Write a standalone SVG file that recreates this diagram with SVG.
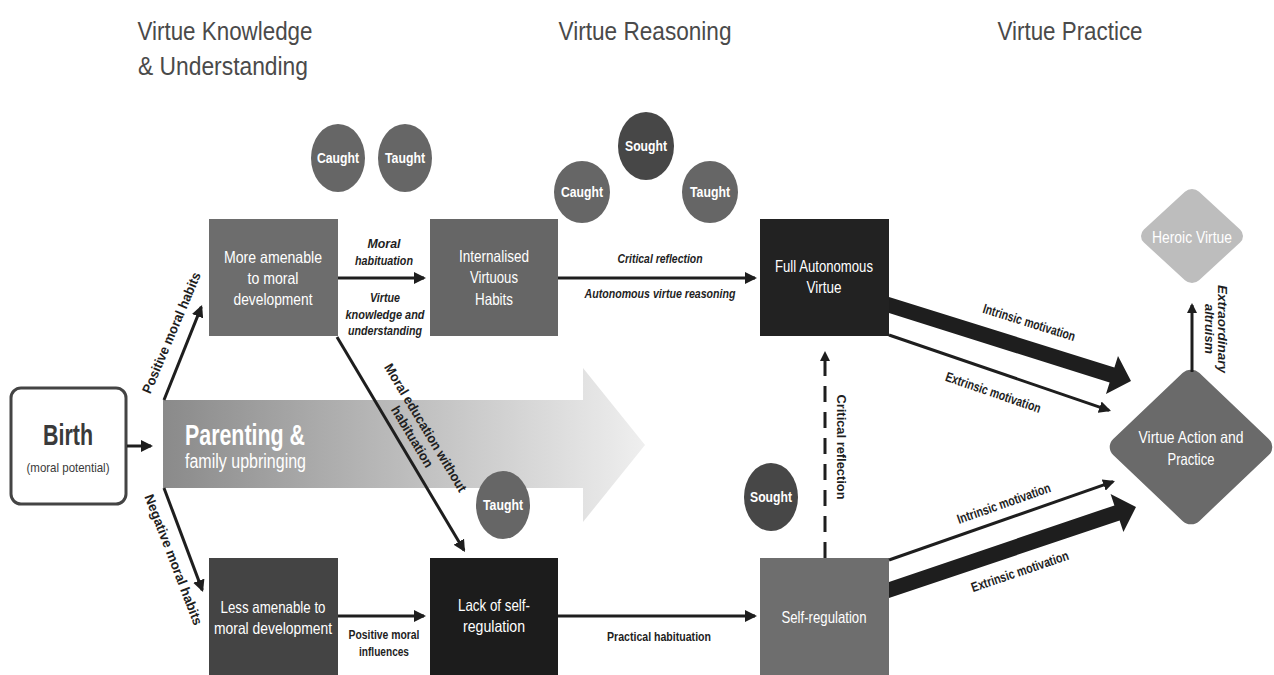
<svg xmlns="http://www.w3.org/2000/svg" width="1274" height="675" viewBox="0 0 1274 675">
<defs>
<linearGradient id="pg" gradientUnits="userSpaceOnUse" x1="163" y1="0" x2="645" y2="0">
<stop offset="0" stop-color="#8a8a8a"/>
<stop offset="1" stop-color="#efefef"/>
</linearGradient>
<marker id="ah" markerUnits="userSpaceOnUse" markerWidth="12" markerHeight="12" refX="10" refY="6" orient="auto">
<path d="M0,0 L12,6 L0,12 z" fill="#1e1e1e"/>
</marker>
<marker id="ahs" markerUnits="userSpaceOnUse" markerWidth="10" markerHeight="10" refX="8" refY="5" orient="auto">
<path d="M0,0 L10,5 L0,10 z" fill="#1e1e1e"/>
</marker>
<style>
.title{font-family:"Liberation Sans",Arial,sans-serif;font-size:26px;fill:#4a4a4a;text-anchor:middle}
.nt{font-family:"Liberation Sans",Arial,sans-serif;font-size:16.5px;fill:#ffffff;text-anchor:middle}
.ct{font-family:"Liberation Sans",Arial,sans-serif;font-size:14.5px;font-weight:bold;fill:#ffffff;text-anchor:middle}
.lb{font-family:"Liberation Sans",Arial,sans-serif;font-size:13.5px;font-weight:bold;fill:#1e1e1e;text-anchor:middle}
.it{font-style:italic}
.cn{stroke:#1e1e1e;stroke-width:3;fill:none}
.circ{fill:#666666}
.circd{fill:#474747}
</style>
</defs>
<rect x="0" y="0" width="1274" height="675" fill="#ffffff"/>

<g id="titles">
<text class="title" x="225" y="40" textLength="175" lengthAdjust="spacingAndGlyphs">Virtue Knowledge</text>
<text class="title" x="223" y="75" textLength="170" lengthAdjust="spacingAndGlyphs">&amp; Understanding</text>
<text class="title" x="645" y="40" textLength="173" lengthAdjust="spacingAndGlyphs">Virtue Reasoning</text>
<text class="title" x="1070" y="40" textLength="145" lengthAdjust="spacingAndGlyphs">Virtue Practice</text>
</g>

<g id="parenting">
<path d="M163,400 H583 V368 L645,445 L583,522 V488 H163 Z" fill="url(#pg)"/>
<text x="185" y="445" font-family="Liberation Sans, Arial, sans-serif" font-size="29" font-weight="bold" fill="#ffffff" textLength="120" lengthAdjust="spacingAndGlyphs">Parenting &amp;</text>
<text x="185" y="468" font-family="Liberation Sans, Arial, sans-serif" font-size="20" fill="#ffffff" textLength="121" lengthAdjust="spacingAndGlyphs">family upbringing</text>
</g>

<g id="birth">
<rect x="11" y="388" width="115" height="116" rx="10" fill="#ffffff" stroke="#444444" stroke-width="3"/>
<text x="68" y="445" font-family="Liberation Sans, Arial, sans-serif" font-size="29" font-weight="bold" fill="#3a3a3a" text-anchor="middle" textLength="50" lengthAdjust="spacingAndGlyphs">Birth</text>
<text x="68" y="472" font-family="Liberation Sans, Arial, sans-serif" font-size="13" fill="#3a3a3a" text-anchor="middle" textLength="83" lengthAdjust="spacingAndGlyphs">(moral potential)</text>
</g>

<g id="more-amenable">
<rect x="209" y="219" width="129" height="117" fill="#6d6d6d"/>
<text class="nt" x="273" y="263" textLength="98" lengthAdjust="spacingAndGlyphs">More amenable</text>
<text class="nt" x="273" y="284" textLength="51" lengthAdjust="spacingAndGlyphs">to moral</text>
<text class="nt" x="273" y="305" textLength="79" lengthAdjust="spacingAndGlyphs">development</text>
</g>

<g id="internalised">
<rect x="430" y="219" width="128" height="117" fill="#666666"/>
<text class="nt" x="494" y="262" textLength="70" lengthAdjust="spacingAndGlyphs">Internalised</text>
<text class="nt" x="494" y="283" textLength="48" lengthAdjust="spacingAndGlyphs">Virtuous</text>
<text class="nt" x="494" y="305" textLength="38" lengthAdjust="spacingAndGlyphs">Habits</text>
</g>

<g id="full-autonomous">
<rect x="760" y="219" width="129" height="117" fill="#222222"/>
<text class="nt" x="824" y="272" textLength="98" lengthAdjust="spacingAndGlyphs">Full Autonomous</text>
<text class="nt" x="824" y="293" textLength="35" lengthAdjust="spacingAndGlyphs">Virtue</text>
</g>

<g id="less-amenable">
<rect x="209" y="558" width="129" height="117" fill="#444444"/>
<text class="nt" x="273" y="613" textLength="105" lengthAdjust="spacingAndGlyphs">Less amenable to</text>
<text class="nt" x="273" y="634" textLength="118" lengthAdjust="spacingAndGlyphs">moral development</text>
</g>

<g id="lack-self-regulation">
<rect x="430" y="558" width="128" height="117" fill="#1c1c1c"/>
<text class="nt" x="494" y="611" textLength="72" lengthAdjust="spacingAndGlyphs">Lack of self-</text>
<text class="nt" x="494" y="632" textLength="62" lengthAdjust="spacingAndGlyphs">regulation</text>
</g>

<g id="self-regulation">
<rect x="760" y="558" width="129" height="117" fill="#6e6e6e"/>
<text class="nt" x="824" y="623" textLength="85" lengthAdjust="spacingAndGlyphs">Self-regulation</text>
</g>

<g id="virtue-action">
<rect x="-61" y="-61" width="122" height="122" rx="12" fill="#6a6a6a" transform="translate(1191,447) scale(1,0.95) rotate(45)"/>
<text class="nt" x="1191" y="443" textLength="105" lengthAdjust="spacingAndGlyphs">Virtue Action and</text>
<text class="nt" x="1191" y="465" textLength="47" lengthAdjust="spacingAndGlyphs">Practice</text>
</g>

<g id="heroic-virtue">
<rect x="-39" y="-39" width="78" height="78" rx="10" fill="#bdbdbd" transform="translate(1192,236) scale(1,0.92) rotate(45)"/>
<text class="nt" x="1192" y="243" textLength="80" lengthAdjust="spacingAndGlyphs">Heroic Virtue</text>
</g>

<g id="caught-1"><ellipse class="circ" cx="338" cy="158" rx="27" ry="34"/><text class="ct" x="338" y="163" textLength="42" lengthAdjust="spacingAndGlyphs">Caught</text></g>
<g id="taught-1"><ellipse class="circ" cx="405" cy="158" rx="27" ry="34"/><text class="ct" x="405" y="163" textLength="40" lengthAdjust="spacingAndGlyphs">Taught</text></g>
<g id="caught-2"><ellipse class="circ" cx="582" cy="192" rx="28" ry="31"/><text class="ct" x="582" y="197" textLength="42" lengthAdjust="spacingAndGlyphs">Caught</text></g>
<g id="sought-1"><ellipse class="circd" cx="646" cy="146" rx="28" ry="34"/><text class="ct" x="646" y="151" textLength="42" lengthAdjust="spacingAndGlyphs">Sought</text></g>
<g id="taught-2"><ellipse class="circ" cx="710" cy="192" rx="28" ry="31"/><text class="ct" x="710" y="197" textLength="40" lengthAdjust="spacingAndGlyphs">Taught</text></g>
<g id="taught-3"><ellipse class="circ" cx="503" cy="505" rx="27" ry="34"/><text class="ct" x="503" y="510" textLength="40" lengthAdjust="spacingAndGlyphs">Taught</text></g>
<g id="sought-2"><ellipse class="circd" cx="771" cy="497" rx="27" ry="34"/><text class="ct" x="771" y="502" textLength="42" lengthAdjust="spacingAndGlyphs">Sought</text></g>

<g id="connectors">
<line class="cn" x1="127" y1="446" x2="151" y2="446" marker-end="url(#ah)"/>
<line class="cn" x1="164" y1="400" x2="201.3" y2="306.9" marker-end="url(#ah)"/>
<line class="cn" x1="164" y1="488" x2="202.3" y2="590.1" marker-end="url(#ah)"/>
<line class="cn" x1="338" y1="278" x2="424" y2="278" marker-end="url(#ah)"/>
<line class="cn" x1="558" y1="278" x2="755" y2="278" marker-end="url(#ah)"/>
<line class="cn" x1="337" y1="337" x2="464" y2="550.3" marker-end="url(#ah)"/>
<line class="cn" x1="338" y1="616" x2="424" y2="616" marker-end="url(#ah)"/>
<line class="cn" x1="558" y1="616" x2="755" y2="616" marker-end="url(#ah)"/>
<line class="cn" x1="825" y1="558" x2="825" y2="353" stroke-dasharray="16 10" marker-end="url(#ahs)"/>
<line class="cn" x1="889" y1="335" x2="1109.1" y2="410.4" marker-end="url(#ah)"/>
<line class="cn" x1="889" y1="560" x2="1113.1" y2="481.7" marker-end="url(#ah)"/>
<line class="cn" x1="1192" y1="372" x2="1192" y2="305" marker-end="url(#ahs)"/>
<polygon points="889,297 1114.4,367.4 1118,356 1131,381 1106,394 1109.6,382.6 889,313" fill="#1e1e1e"/>
<polygon points="889,582 1114.4,505.4 1110.6,494 1136,507 1123.4,532 1119.6,520.6 889,598" fill="#1e1e1e"/>
</g>

<g id="labels">
<text class="lb it" x="384" y="248" textLength="33" lengthAdjust="spacingAndGlyphs">Moral</text>
<text class="lb it" x="384" y="265" textLength="58" lengthAdjust="spacingAndGlyphs">habituation</text>
<text class="lb it" x="385" y="302" textLength="30" lengthAdjust="spacingAndGlyphs">Virtue</text>
<text class="lb it" x="385" y="319" textLength="79" lengthAdjust="spacingAndGlyphs">knowledge and</text>
<text class="lb it" x="385" y="335" textLength="74" lengthAdjust="spacingAndGlyphs">understanding</text>
<text class="lb it" x="660" y="263" textLength="85" lengthAdjust="spacingAndGlyphs">Critical reflection</text>
<text class="lb it" x="660" y="298" textLength="151" lengthAdjust="spacingAndGlyphs">Autonomous virtue reasoning</text>
<text class="lb" x="384" y="639" textLength="71" lengthAdjust="spacingAndGlyphs">Positive moral</text>
<text class="lb" x="384" y="656" textLength="50" lengthAdjust="spacingAndGlyphs">influences</text>
<text class="lb" x="659" y="641" textLength="104" lengthAdjust="spacingAndGlyphs">Practical habituation</text>
<text class="lb" transform="translate(172,333) rotate(-67)" x="0" y="4" textLength="130" lengthAdjust="spacingAndGlyphs">Positive moral habits</text>
<text class="lb" transform="translate(173,560) rotate(69)" x="0" y="4" textLength="139" lengthAdjust="spacingAndGlyphs">Negative moral habits</text>
<g transform="translate(425,428) rotate(59)">
<text class="lb" x="0" y="4" textLength="147" lengthAdjust="spacingAndGlyphs">Moral education without</text>
<text class="lb" x="1" y="20" textLength="69" lengthAdjust="spacingAndGlyphs">habituation</text>
</g>
<text class="lb" transform="translate(841,447) rotate(90)" x="0" y="4" textLength="105" lengthAdjust="spacingAndGlyphs">Critical reflection</text>
<g transform="translate(1222,329) rotate(90)">
<text class="lb it" x="0" y="4" textLength="88" lengthAdjust="spacingAndGlyphs">Extraordinary</text>
<text class="lb it" x="0" y="17" textLength="50" lengthAdjust="spacingAndGlyphs">altruism</text>
</g>
<text class="lb" transform="translate(1029,323) rotate(17.4)" x="0" y="4" textLength="96" lengthAdjust="spacingAndGlyphs">Intrinsic motivation</text>
<text class="lb" transform="translate(993,393) rotate(18.9)" x="0" y="4" textLength="100" lengthAdjust="spacingAndGlyphs">Extrinsic motivation</text>
<text class="lb" transform="translate(1004,504) rotate(-19.3)" x="0" y="4" textLength="98" lengthAdjust="spacingAndGlyphs">Intrinsic motivation</text>
<text class="lb" transform="translate(1020,572) rotate(-18.7)" x="0" y="4" textLength="102" lengthAdjust="spacingAndGlyphs">Extrinsic motivation</text>
</g>
</svg>
